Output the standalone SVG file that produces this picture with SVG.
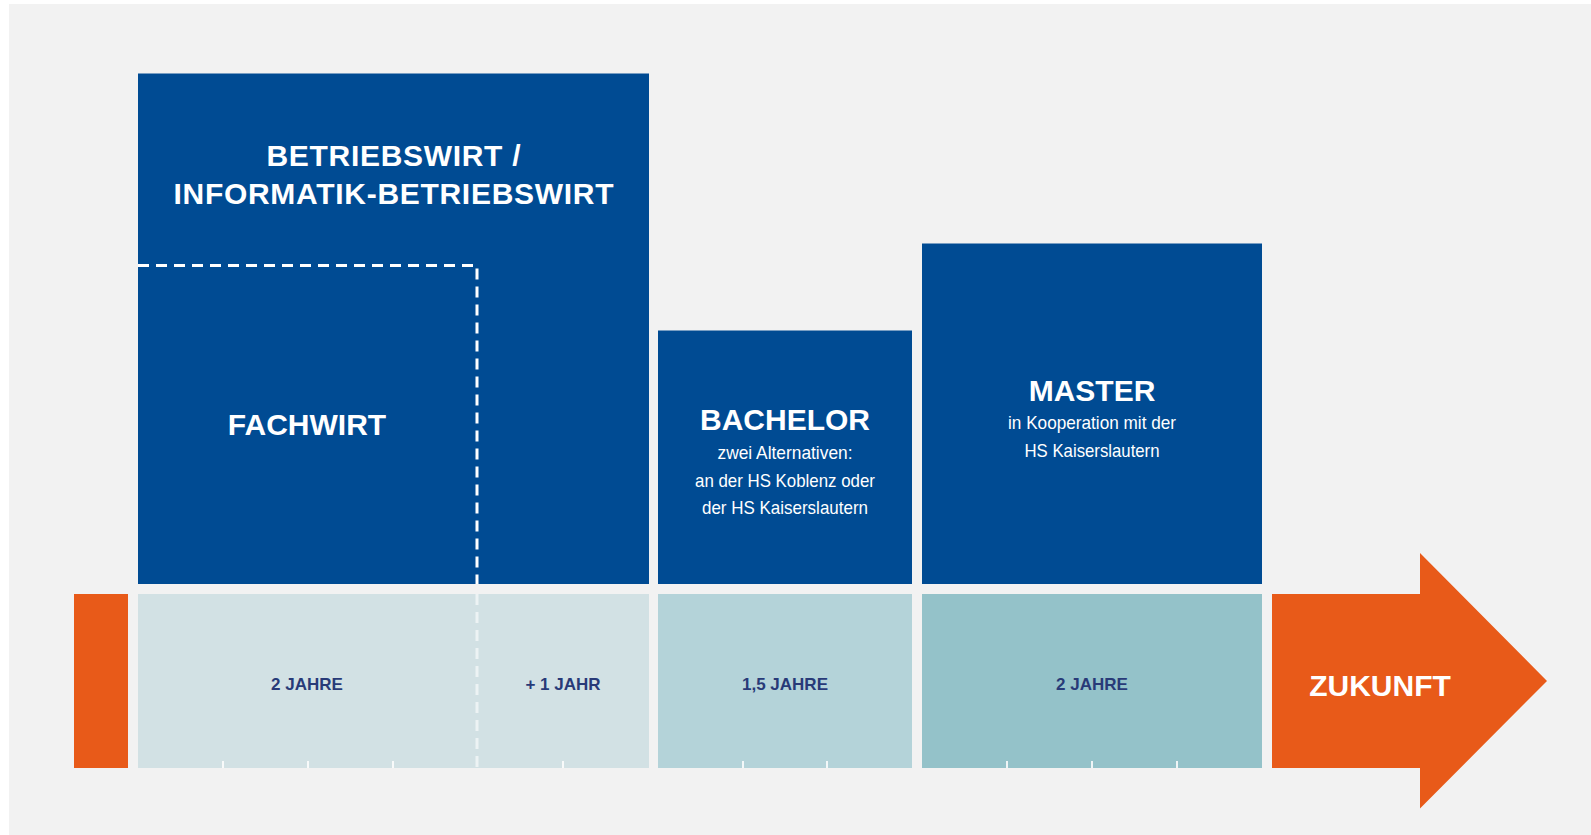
<svg xmlns="http://www.w3.org/2000/svg" width="1591" height="835" viewBox="0 0 1591 835">
  <style>
    .blue { fill: #004b93; }
    .title { font-family: "Liberation Sans", Arial, sans-serif; font-weight: bold; font-size: 30px; fill: #ffffff; text-anchor: middle; }
    .sub { font-family: "Liberation Sans", Arial, sans-serif; font-size: 18.5px; fill: #ffffff; text-anchor: middle; }
    .year { font-family: "Liberation Sans", Arial, sans-serif; font-weight: bold; font-size: 17px; fill: #283a78; text-anchor: middle; }
    .dash { stroke: #ffffff; stroke-width: 3; stroke-dasharray: 11 7; fill: none; }
    .tick { stroke: #ffffff; stroke-width: 2; opacity: 0.85; }
  </style>
  <rect x="0" y="0" width="1591" height="835" fill="#ffffff"/>
  <rect x="9" y="4" width="1582" height="831" fill="#f2f2f2"/>

  <g id="betriebswirt">
    <rect class="blue" x="138" y="73.5" width="511" height="510.5"/>
    <text class="title" x="393.5" y="166" textLength="254" lengthAdjust="spacing">BETRIEBSWIRT /</text>
    <text class="title" x="393.5" y="204" textLength="440" lengthAdjust="spacing">INFORMATIK-BETRIEBSWIRT</text>
  </g>

  <g id="fachwirt">
    <text class="title" x="307" y="435">FACHWIRT</text>
  </g>

  <g id="bachelor">
    <rect class="blue" x="658" y="330.5" width="254" height="253.5"/>
    <text class="title" x="785" y="430">BACHELOR</text>
    <text class="sub" x="785" y="459" textLength="135" lengthAdjust="spacingAndGlyphs">zwei Alternativen:</text>
    <text class="sub" x="785" y="486.5" textLength="180" lengthAdjust="spacingAndGlyphs">an der HS Koblenz oder</text>
    <text class="sub" x="785" y="513.5" textLength="166" lengthAdjust="spacingAndGlyphs">der HS Kaiserslautern</text>
  </g>

  <g id="master">
    <rect class="blue" x="922" y="243.5" width="340" height="340.5"/>
    <text class="title" x="1092" y="401">MASTER</text>
    <text class="sub" x="1092" y="429" textLength="168" lengthAdjust="spacingAndGlyphs">in Kooperation mit der</text>
    <text class="sub" x="1092" y="456.5" textLength="135" lengthAdjust="spacingAndGlyphs">HS Kaiserslautern</text>
  </g>

  <g id="start-bar">
    <rect x="74" y="594" width="54" height="174" fill="#e85a19"/>
  </g>

  <g id="timeline-fachwirt">
    <rect x="138" y="594" width="511" height="174" fill="#d2e1e4"/>
    <text class="year" x="307" y="690">2 JAHRE</text>
    <text class="year" x="563" y="690">+ 1 JAHR</text>
  </g>

  <g id="timeline-bachelor">
    <rect x="658" y="594" width="254" height="174" fill="#b4d3d9"/>
    <text class="year" x="785" y="690">1,5 JAHRE</text>
  </g>

  <g id="timeline-master">
    <rect x="922" y="594" width="340" height="174" fill="#94c2c9"/>
    <text class="year" x="1092" y="690">2 JAHRE</text>
  </g>

  <g id="zukunft">
    <polygon points="1272,594 1420,594 1420,553 1547,681 1420,808.5 1420,768 1272,768" fill="#e85a19"/>
    <text class="title" x="1380" y="696">ZUKUNFT</text>
  </g>

  <g id="connectors">
    <path class="dash" d="M138,265.5 H477 V584"/>
    <path class="dash" d="M477,594 V768" opacity="0.6"/>
    <line class="tick" x1="223" y1="761" x2="223" y2="768"/>
    <line class="tick" x1="308" y1="761" x2="308" y2="768"/>
    <line class="tick" x1="393" y1="761" x2="393" y2="768"/>
    <line class="tick" x1="563" y1="761" x2="563" y2="768"/>
    <line class="tick" x1="743" y1="761" x2="743" y2="768"/>
    <line class="tick" x1="827" y1="761" x2="827" y2="768"/>
    <line class="tick" x1="1007" y1="761" x2="1007" y2="768"/>
    <line class="tick" x1="1092" y1="761" x2="1092" y2="768"/>
    <line class="tick" x1="1177" y1="761" x2="1177" y2="768"/>
  </g>
</svg>
